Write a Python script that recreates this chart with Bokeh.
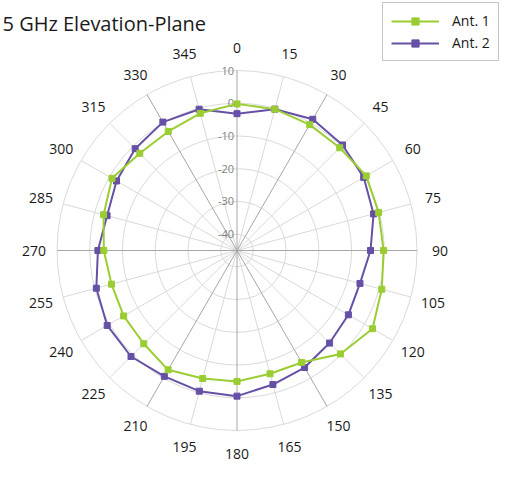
import numpy as np
from bokeh.plotting import figure
from bokeh.models import Range1d, Legend, LegendItem, ColumnDataSource
from bokeh.core.properties import value
from bokeh.embed import file_html
from bokeh.resources import INLINE

# ---- data ----
angles = [0, 15, 30, 45, 60, 75, 90, 105, 120, 135, 150, 165,
          180, 195, 210, 225, 240, 255, 270, 285, 300, 315, 330, 345]
ant1 = [-0.2, -0.3, -0.6, -0.6, 0.6, -0.2, -0.2, 0.8, 2.8, -0.3, -5.5, -6.0,
        -5.0, -4.5, -2.9, -4.7, -5.0, -5.3, -4.3, -2.8, -0.9, -3.0, -3.0, -1.6]
ant2 = [-3.2, -0.3, 1.3, 0.6, -0.3, -1.8, -4.2, -6.1, -5.7, -5.0, -3.7, -2.6,
        -0.5, -0.5, -0.6, 0.8, 0.8, -0.5, -2.5, -3.9, -2.5, -1.0, 0.3, -0.3]
ring_values = [10, 0, -10, -20, -30, -40]
ring_labels = ["10", "0", "-10", "-20", "-30", "-40"]
angle_labels = [str(a) for a in angles]
series_names = ["Ant. 1", "Ant. 2"]
title_text = "5 GHz Elevation-Plane"

# ---- scale ----
RMIN, RMAX = -45.0, 10.0
R_PIX = 180.0
def rad(v):
    return (np.asarray(v, dtype=float) - RMIN) / (RMAX - RMIN) * R_PIX

th = np.deg2rad(np.asarray(angles, dtype=float))

W, H = 502, 463
CX, CY = 236.5, 250.0   # centre within the canvas (px from top-left)
p = figure(width=W, height=H, output_backend="svg", toolbar_location=None,
           x_range=Range1d(-CX, W - CX), y_range=Range1d(CY - H, CY),
           x_axis_location=None, y_axis_location=None, min_border=0,
           outline_line_color=None, background_fill_color="white")
p.grid.visible = False

# rings
p.circle(x=[0] * len(ring_values), y=[0] * len(ring_values), radius=list(rad(ring_values)),
         fill_color=None, line_color="#d9d9d9", line_width=1)

# spokes
R_OUT = float(rad(RMAX))
dark = {0, 30, 90, 150, 180, 210, 270, 330}
xs_l, ys_l, xs_d, ys_d = [], [], [], []
for a, t in zip(angles, th):
    xe, ye = R_OUT * np.sin(t), R_OUT * np.cos(t)
    if a in dark:
        xs_d.append([0, xe]); ys_d.append([0, ye])
    else:
        xs_l.append([0, xe]); ys_l.append([0, ye])
p.multi_line(xs_l, ys_l, line_color="#d9d9d9", line_width=1)
p.multi_line(xs_d, ys_d, line_color="#a6a6a6", line_width=1)

# radial labels
p.text(x=[-3] * len(ring_values), y=list(rad(ring_values)), text=ring_labels,
       text_align="right", text_baseline="middle", text_color="#7f7f7f",
       text_font=value("Open Sans"), text_font_size="11px")

# angle labels
LR = 203
p.text(x=list(LR * np.sin(th)), y=list(LR * np.cos(th)), text=angle_labels,
       text_align="center", text_baseline="middle", text_color="#1a1a1a",
       text_font=value("Open Sans"), text_font_size="14px")

# series (Ant. 2 below, Ant. 1 on top)
colors = {"Ant. 1": "#9ACD32", "Ant. 2": "#6650A6"}
rends = {}
for name, vals in [(series_names[1], ant2), (series_names[0], ant1)]:
    col = colors[name]
    r = rad(vals)
    x = list(r * np.sin(th)) + [r[0] * np.sin(th[0])]
    y = list(r * np.cos(th)) + [r[0] * np.cos(th[0])]
    lr = p.line("x", "y", source=ColumnDataSource(dict(x=x, y=y)), line_color=col, line_width=2)
    sr = p.scatter("x", "y", source=ColumnDataSource(dict(x=x[:-1], y=y[:-1])),
                   marker="square", size=6, fill_color=col, line_color=col)
    rends[name] = [lr, sr]

# title (top-left)
p.text(x=[-CX + 2], y=[CY - 23], text=[title_text], text_align="left",
       text_baseline="alphabetic", text_color="#1a1a1a",
       text_font=value("Open Sans"), text_font_size="20px")

legend = Legend(items=[LegendItem(label=n, renderers=rends[n]) for n in series_names],
                location=(382, 402), orientation="vertical",
                glyph_width=48, glyph_height=18, label_standoff=13, spacing=3,
                padding=8, margin=0,
                label_text_font="Open Sans", label_text_font_size="14px",
                label_text_color="#1a1a1a",
                border_line_color="#8c8c8c", border_line_width=1,
                background_fill_color="white", background_fill_alpha=1)
p.add_layout(legend)

open("out.html", "w").write(file_html(p, INLINE))
